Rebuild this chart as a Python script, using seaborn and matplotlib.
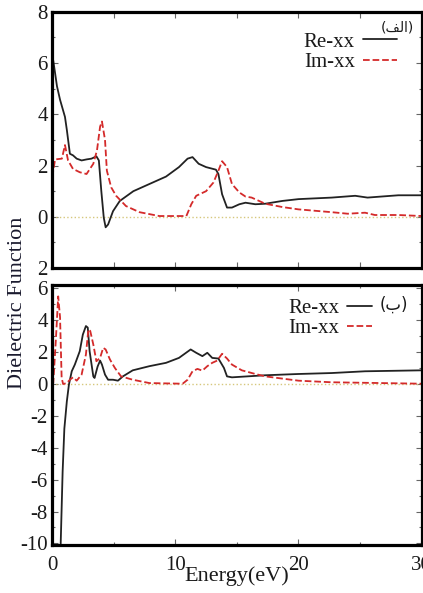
import numpy as np
import pandas as pd
import seaborn as sns
import matplotlib.pyplot as plt

# ---- data ----
# panel (alef): Re / Im of dielectric function
top_re_e = [0.0, 0.1, 0.4, 0.65, 1.05, 1.2, 1.45, 1.7, 2.0, 2.4, 2.8, 3.2, 3.6, 3.8, 4.0, 4.2,
            4.35, 4.55, 4.95, 5.5, 6.6, 7.9, 9.25, 10.3, 11.0, 11.4, 11.9, 12.5, 13.3, 13.5,
            13.8, 14.2, 14.6, 15.2, 15.7, 16.5, 17.3, 18.7, 20.0, 22.7, 24.6, 25.6, 26.7, 28.1, 30.0]
top_re_v = [5.9, 6.1, 5.1, 4.57, 3.9, 3.4, 2.46, 2.4, 2.27, 2.2, 2.24, 2.27, 2.36, 2.2, 1.0, -0.04,
            -0.41, -0.3, 0.22, 0.62, 1.0, 1.28, 1.57, 1.94, 2.27, 2.33, 2.07, 1.94, 1.84, 1.67,
            0.88, 0.36, 0.36, 0.49, 0.55, 0.49, 0.51, 0.62, 0.69, 0.75, 0.82, 0.75, 0.79, 0.84, 0.84]

top_im_e = [0.0, 0.1, 0.25, 0.8, 1.05, 1.3, 1.7, 2.25, 2.8, 3.35, 3.65, 3.9, 4.05, 4.3, 4.45,
            4.8, 5.2, 6.0, 7.1, 8.7, 10.9, 11.3, 11.7, 12.5, 13.1, 13.5, 13.8, 14.2, 14.6,
            15.2, 15.7, 16.2, 17.3, 18.7, 20.0, 22.7, 24.0, 25.4, 26.2, 28.1, 30.0]
top_im_v = [1.55, 1.8, 2.24, 2.27, 2.8, 2.2, 1.87, 1.74, 1.67, 2.07, 2.6, 3.52, 3.72, 3.0, 1.8,
            1.15, 0.82, 0.42, 0.18, 0.03, 0.03, 0.49, 0.82, 1.0, 1.34, 1.8, 2.17, 1.94, 1.28,
            0.95, 0.79, 0.75, 0.51, 0.38, 0.29, 0.18, 0.12, 0.16, 0.07, 0.07, 0.03]

# panel (beh)
bot_re_e = [0.6, 0.7, 0.86, 1.0, 1.2, 1.37, 1.6, 1.85, 2.25, 2.5, 2.75, 2.9, 3.05, 3.35, 3.45,
            3.7, 3.9, 4.05, 4.3, 4.55, 4.95, 5.35, 5.75, 6.55, 7.9, 9.25, 10.3, 11.25, 11.7,
            12.2, 12.6, 13.0, 13.5, 13.95, 14.2, 14.6, 17.3, 20.0, 22.7, 25.4, 30.0]
bot_re_v = [-11.0, -10.1, -5.5, -2.8, -1.1, -0.04, 0.8, 1.22, 2.06, 3.1, 3.64, 3.54, 2.06, 0.48, 0.38,
            1.1, 1.47, 1.22, 0.59, 0.27, 0.27, 0.21, 0.48, 0.86, 1.12, 1.33, 1.64, 2.17, 1.96,
            1.75, 1.96, 1.64, 1.6, 1.01, 0.48, 0.42, 0.55, 0.63, 0.69, 0.8, 0.86]

bot_im_e = [0.0, 0.1, 0.32, 0.5, 0.65, 0.78, 0.9, 1.2, 1.45, 1.7, 2.0, 2.4, 2.75, 2.95, 3.1,
            3.35, 3.6, 3.9, 4.15, 4.35, 4.7, 5.1, 5.6, 6.55, 7.9, 10.6, 11.0, 11.4, 11.8,
            12.2, 12.6, 13.0, 13.4, 13.8, 14.2, 14.6, 15.4, 16.5, 17.3, 18.7, 20.0, 22.7, 30.0]
bot_im_v = [0.0, 0.06, 2.9, 5.5, 4.2, 0.38, 0.0, 0.06, 0.27, 0.42, 0.21, 0.59, 1.85, 3.43, 3.33,
            2.48, 1.43, 1.64, 2.27, 2.17, 1.54, 1.01, 0.48, 0.27, 0.06, 0.02, 0.27, 0.8, 0.95,
            0.84, 1.12, 1.33, 1.47, 1.9, 1.6, 1.22, 0.86, 0.63, 0.48, 0.34, 0.21, 0.11, 0.02]

top_yticks = [-2, 0, 2, 4, 6, 8]
top_yticklabels = ["2", "0", "2", "4", "6", "8"]
bot_yticks = [-10, -8, -6, -4, -2, 0, 2, 4, 6]
bot_yticklabels = ["-10", "-8", "-6", "-4", "-2", "0", "2", "4", "6"]
xticks = [0, 10, 20, 30]
xticklabels = ["0", "10", "20", "30"]

# ---- style ----
sns.set_style("ticks")
plt.rcParams['font.family'] = ['Liberation Serif', 'DejaVu Sans']
plt.rcParams['font.size'] = 15
plt.rcParams['axes.unicode_minus'] = False
serif = 'Liberation Serif'
txt_color = '#1a1a1a'
re_color = '#222222'
im_color = '#d42a2a'
zero_color = '#d6c77c'

fig = plt.figure(figsize=(4.23, 5.93), dpi=100)
ax1 = fig.add_axes([0.123, 0.548, 0.874, 0.432])
ax2 = fig.add_axes([0.123, 0.081, 0.874, 0.438])

panels = [
    (ax1, top_re_e, top_re_v, top_im_e, top_im_v),
    (ax2, bot_re_e, bot_re_v, bot_im_e, bot_im_v),
]
for ax, re_e, re_v, im_e, im_v in panels:
    ax.axhline(0, color=zero_color, lw=1.0, ls=':', zorder=1)
    sns.lineplot(x=re_e, y=re_v, ax=ax, color=re_color, lw=1.3, label='Re-xx', estimator=None)
    sns.lineplot(x=im_e, y=im_v, ax=ax, color=im_color, lw=1.3, ls='--', label='Im-xx',
                 estimator=None)
    ax.set_xlim(0, 30)
    for sp in ax.spines.values():
        sp.set_linewidth(2.3)
        sp.set_color('black')
    ax.set_xticks([0, 5, 10, 15, 20, 25, 30])
    ax.set_yticks(np.arange(-10, 9, 1), minor=True)
    ax.tick_params(which='both', direction='in', top=True, right=True, length=4, width=0.8,
                   colors='#666666', labelcolor=txt_color, labelsize=15, pad=3)
    ax.tick_params(which='minor', length=2.5)
    ax.set_xlabel('')
    ax.set_ylabel('')

ax1.set_ylim(-2, 8)
ax1.set_yticks(top_yticks)
ax1.set_yticklabels(top_yticklabels, fontfamily=serif, fontsize=15)
ax1.set_xticklabels([])

ax2.set_ylim(-10.1, 6.2)
ax2.set_yticks(bot_yticks)
ax2.set_yticklabels(bot_yticklabels, fontfamily=serif, fontsize=15)
ax2.set_xticks(xticks)
ax2.set_xticks([5, 15, 25], minor=True)
ax2.set_xticklabels(xticklabels, fontfamily=serif, fontsize=15)
ax2.tick_params(axis='x', pad=8)
ax2.set_xlabel('Energy(eV)', fontsize=16, color=txt_color, labelpad=-6, fontfamily=serif)

# legends
leg1 = ax1.legend(loc='upper right', bbox_to_anchor=(0.96, 0.962), frameon=False, markerfirst=False,
                  handlelength=1.6, handletextpad=0.4, labelspacing=0.05, borderpad=0,
                  prop={'family': serif, 'size': 15})
leg2 = ax2.legend(loc='upper right', bbox_to_anchor=(0.895, 0.99), frameon=False, markerfirst=False,
                  handlelength=1.2, handletextpad=0.4, labelspacing=0.05, borderpad=0,
                  prop={'family': serif, 'size': 15})
for leg in (leg1, leg2):
    for t in leg.get_texts():
        t.set_color(txt_color)

# Arabic panel labels (pre-shaped presentation forms)
ax1.text(0.935, 0.94, '(\uFED2\uFEDF\uFE8D)', transform=ax1.transAxes, ha='center', va='center',
         fontsize=10, family='DejaVu Sans', color=txt_color)
ax2.text(0.925, 0.925, '(\uFE8F)', transform=ax2.transAxes, ha='center', va='center',
         fontsize=12, family='DejaVu Sans', color=txt_color)

fig.text(0.042, 1 - 303 / 593, 'Dielectric Function', rotation=90, ha='center', va='center',
         fontsize=16, color='#1a1a2e', fontfamily=serif)

fig.savefig('out.png', dpi=100)
